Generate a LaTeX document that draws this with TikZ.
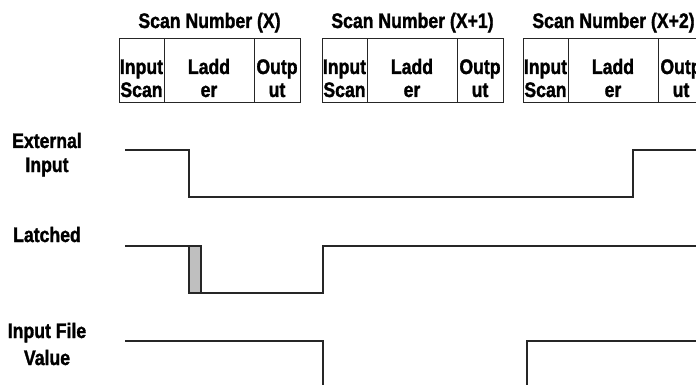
\documentclass[tikz,border=0pt]{standalone}
\usepackage{fontspec}
\usepackage{graphicx}
\setmainfont[BoldFeatures={FakeBold=1.6}]{Liberation Sans}
\newcommand\narrowtxt[1]{\scalebox{0.84}[1]{#1}}
\begin{document}
\begin{tikzpicture}[x=1pt,y=-1pt,
  lbl/.style={font=\bfseries\fontsize{21}{24}\selectfont, inner sep=0pt, anchor=base},
  cell/.style={draw=black!85, line width=1pt, inner sep=0pt, minimum height=64pt, anchor=north west},
  sig/.style={draw=black!85, line width=1.2pt, line join=miter}]
\useasboundingbox (0,0) rectangle (696,385);
\clip (0,0) rectangle (696,385);
% scan boxes
\foreach \x/\n/\t in {119/a/X, 322/b/X+1, 523/c/X+2}{
  \node[lbl] (title\n) at (\x+90.5,28) {\narrowtxt{Scan Number (\t)}};
  \node[cell, minimum width=45pt] (in\n) at (\x,38) {};
  \node[cell, minimum width=90pt] (lad\n) at (\x+45,38) {};
  \node[cell, minimum width=46pt] (out\n) at (\x+135,38) {};
  \node[lbl] (inA\n) at (\x+22.5,74) {\narrowtxt{Input}};
  \node[lbl] (inB\n) at (\x+22.5,97) {\narrowtxt{Scan}};
  \node[lbl] (ladA\n) at (\x+90,74) {\narrowtxt{Ladd}};
  \node[lbl] (ladB\n) at (\x+90,97) {\narrowtxt{er}};
  \node[lbl] (outA\n) at (\x+158,74) {\narrowtxt{Outp}};
  \node[lbl] (outB\n) at (\x+158,97) {\narrowtxt{ut}};
}
% left labels
\node[lbl] (extA) at (47,148) {\narrowtxt{External}};
\node[lbl] (extB) at (47,172) {\narrowtxt{Input}};
\node[lbl] (lat) at (47,242) {\narrowtxt{Latched}};
\node[lbl] (ifvA) at (47,338) {\narrowtxt{Input File}};
\node[lbl] (ifvB) at (47,365) {\narrowtxt{Value}};
% External Input waveform
\draw[sig] (125,150) -- (189,150) -- (189,197) -- (633,197) -- (633,150) -- (700,150);
% Latched waveform
\draw[sig, fill=black!25] (189,246) rectangle (201,293);
\draw[sig] (125,246) -- (189,246);
\draw[sig] (201,293) -- (323,293) -- (323,246) -- (700,246);
% Input File Value waveform
\draw[sig] (125,341) -- (323,341) -- (323,390);
\draw[sig] (527,390) -- (527,341) -- (700,341);
\end{tikzpicture}
\end{document}
